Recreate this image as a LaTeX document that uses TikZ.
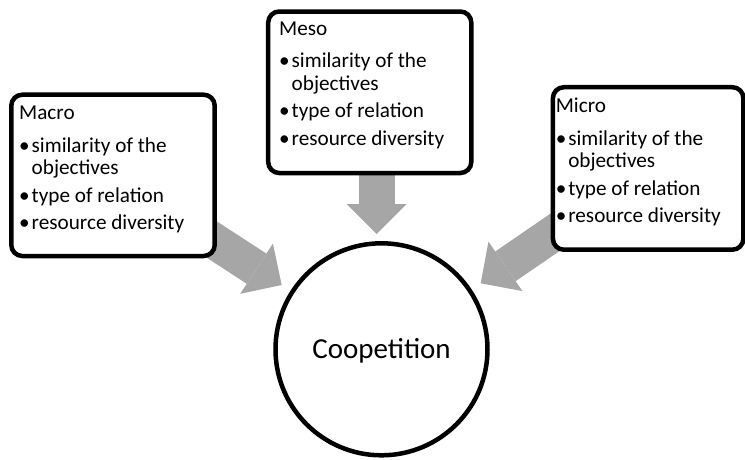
\documentclass[tikz,border=0pt]{standalone}
\usepackage{fontspec}
\setmainfont{Carlito}
\usetikzlibrary{arrows.meta,backgrounds}

\definecolor{arrowgray}{RGB}{166,166,166}

% width reserved for a bullet before its text
\newlength{\bulletw}
\setlength{\bulletw}{12.5pt}
\newcommand{\bulletline}[1]{\makebox[\bulletw][l]{•}#1}

% heading followed by the three factors
\newcommand{\factorlist}[1]{%
  \begin{minipage}[t]{190pt}%
    \fontsize{21.2pt}{22.3pt}\selectfont
    \setlength{\parindent}{0pt}%
    #1\par\vspace{10.4pt}%
    \bulletline{similarity of the}\\\hspace*{\bulletw}objectives\par\vspace{5.5pt}%
    \bulletline{type of relation}\par\vspace{5.5pt}%
    \bulletline{resource diversity}%
  \end{minipage}}

\tikzset{
  factorbox/.style={draw=black, fill=white, line width=4.5pt, rounded corners=11pt,
    rectangle, inner sep=0pt, outer sep=0pt, anchor=north west},
  factortext/.style={anchor=base west, inner sep=0pt, outer sep=0pt},
  bigarrow/.style={draw=arrowgray, line width=36pt,
    -{Triangle[length=30pt,width=60pt,line width=0pt]}},
  hub/.style={draw=black, fill=white, line width=4.5pt, circle, inner sep=0pt,
    minimum size=212pt, font=\fontsize{29pt}{31pt}\selectfont,
    text height=18.7pt, text depth=0pt}
}

\begin{document}
\begin{tikzpicture}[x=1pt,y=-1pt]
  \useasboundingbox (0,0) rectangle (745,459);

  % the three factor boxes
  \node[factorbox, minimum width=203.4pt, minimum height=161.3pt] (macro) at (11.3,94.7) {};
  \node[factorbox, minimum width=203.1pt, minimum height=161.5pt] (meso) at (268.2,11.5) {};
  \node[factorbox, minimum width=190.5pt, minimum height=162.5pt] (micro) at (552.9,87.2) {};

  \node[factortext] (macroText) at (19.2,119.3) {\factorlist{Macro}};
  \node[factortext] (mesoText) at (279.2,35) {\factorlist{Meso}};
  \node[factortext] (microText) at (555.8,112.3) {\factorlist{Micro}};

  % the central outcome
  \node[hub] (coop) at (381.5,349.3) {Coopetition};

  % arrow points
  \coordinate (tipMacro) at (281.7,285);
  \coordinate (tipMeso) at (376.7,234);
  \coordinate (tipMicro) at (480.7,283.3);

  % arrows run behind the boxes
  \begin{scope}[on background layer]
    \draw[bigarrow] (macro.center) -- (tipMacro);
    \draw[bigarrow] (meso.center -| tipMeso) -- (tipMeso);
    \draw[bigarrow] (micro.center) -- (tipMicro);
  \end{scope}
\end{tikzpicture}
\end{document}
